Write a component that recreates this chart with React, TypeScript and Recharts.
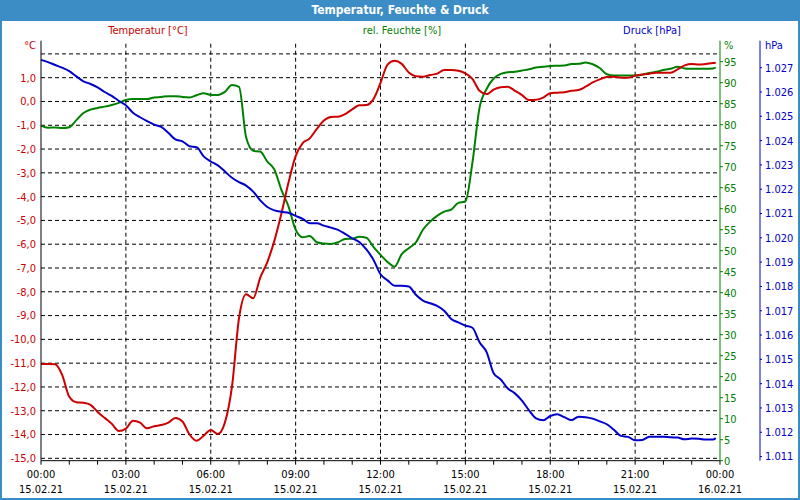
import { LineChart, Line, XAxis, YAxis, ReferenceLine } from "recharts";

const FONT = "'DejaVu Sans Condensed', 'Liberation Sans', sans-serif";
const FRAME = "#3c8dc6";
const RED = "#cc0000";
const GREEN = "#008000";
const BLUE = "#0000cc";

// hours since 15.02.21 00:00, 15 min steps
const HOURS = [
  0, 0.25, 0.5, 0.75, 1, 1.25, 1.5, 1.75, 2, 2.25, 2.5, 2.75,
  3, 3.25, 3.5, 3.75, 4, 4.25, 4.5, 4.75, 5, 5.25, 5.5, 5.75,
  6, 6.25, 6.5, 6.75, 7, 7.25, 7.5, 7.75, 8, 8.25, 8.5, 8.75,
  9, 9.25, 9.5, 9.75, 10, 10.25, 10.5, 10.75, 11, 11.25, 11.5, 11.75,
  12, 12.25, 12.5, 12.75, 13, 13.25, 13.5, 13.75, 14, 14.25, 14.5, 14.75,
  15, 15.25, 15.5, 15.75, 16, 16.25, 16.5, 16.75, 17, 17.25, 17.5, 17.75,
  18, 18.25, 18.5, 18.75, 19, 19.25, 19.5, 19.75, 20, 20.25, 20.5, 20.75,
  21, 21.25, 21.5, 21.75, 22, 22.25, 22.5, 22.75, 23, 23.25, 23.5, 23.75,
  23.85,
];

// °C
const TEMP = [
  -11.03, -11.03, -11.05, -11.5, -12.41, -12.64, -12.66, -12.75, -13.05, -13.3, -13.55, -13.85,
  -13.75, -13.42, -13.5, -13.74, -13.65, -13.6, -13.5, -13.3, -13.45, -14.0, -14.26, -14.05,
  -13.81, -13.98, -13.5, -11.99, -9.1, -8.1, -8.27, -7.4, -6.75, -5.85, -4.7, -3.4,
  -2.3, -1.75, -1.55, -1.15, -0.8, -0.65, -0.64, -0.53, -0.33, -0.16, -0.15, 0.1,
  0.78, 1.55, 1.71, 1.58, 1.22, 1.06, 1.04, 1.11, 1.17, 1.32, 1.32, 1.29,
  1.18, 0.95, 0.45, 0.31, 0.5, 0.6, 0.62, 0.45, 0.27, 0.06, 0.07, 0.16,
  0.35, 0.37, 0.39, 0.45, 0.48, 0.62, 0.8, 0.93, 1.03, 1.04, 1.0, 1.0,
  1.08, 1.13, 1.17, 1.21, 1.21, 1.21, 1.35, 1.52, 1.58, 1.55, 1.58, 1.62,
  1.63,
];

// %
const HUM = [
  79.8, 79.3, 79.35, 79.2, 79.4, 81.1, 82.8, 83.6, 84.0, 84.3, 84.7, 85.2,
  85.9, 86.1, 86.1, 86.1, 86.5, 86.6, 86.8, 86.8, 86.6, 86.5, 87.0, 87.5,
  87.1, 87.1, 87.8, 89.45, 89.0, 77.0, 73.8, 73.6, 71.2, 69.3, 64.4, 60.5,
  55.0, 53.2, 53.5, 52.0, 51.7, 51.6, 52.0, 52.8, 52.85, 53.3, 53.1, 50.9,
  49.0, 47.3, 46.2, 49.2, 50.6, 52.0, 55.0, 56.9, 58.3, 59.3, 59.8, 61.4,
  61.7, 71.0, 84.0, 88.5, 91.0, 92.1, 92.5, 92.6, 92.9, 93.2, 93.6, 93.8,
  94.0, 94.05, 94.1, 94.45, 94.5, 94.8, 94.4, 93.5, 92.0, 91.7, 91.7, 91.7,
  91.7, 91.9, 92.3, 92.6, 93.0, 93.3, 93.8, 93.4, 93.3, 93.3, 93.3, 93.4,
  93.6,
];

// hPa
const PRESS = [
  1027.32, 1027.23, 1027.11, 1027.0, 1026.86, 1026.64, 1026.44, 1026.33, 1026.19, 1026.0, 1025.84, 1025.64,
  1025.45, 1025.15, 1024.96, 1024.8, 1024.66, 1024.56, 1024.32, 1024.05, 1023.97, 1023.77, 1023.73, 1023.35,
  1023.14, 1022.98, 1022.73, 1022.47, 1022.29, 1022.15, 1021.9, 1021.54, 1021.27, 1021.13, 1021.07, 1021.03,
  1020.9, 1020.78, 1020.6, 1020.6, 1020.5, 1020.42, 1020.33, 1020.16, 1019.98, 1019.83, 1019.52, 1019.1,
  1018.5, 1018.25, 1018.03, 1018.03, 1018.0, 1017.66, 1017.42, 1017.31, 1017.2, 1017.0, 1016.66, 1016.52,
  1016.39, 1016.3, 1015.7, 1015.3, 1014.43, 1014.17, 1013.8, 1013.6, 1013.3, 1012.9, 1012.57, 1012.49,
  1012.67, 1012.74, 1012.62, 1012.5, 1012.64, 1012.62, 1012.56, 1012.45, 1012.33, 1012.1, 1011.85, 1011.81,
  1011.67, 1011.68, 1011.82, 1011.82, 1011.82, 1011.79, 1011.78, 1011.71, 1011.74, 1011.73, 1011.7, 1011.7,
  1011.76,
];

const HOUR_TICKS = [0, 1, 2, 3, 4, 5, 6, 7, 8, 9, 10, 11, 12, 13, 14, 15, 16, 17, 18, 19, 20, 21, 22, 23, 24];
const GRID_HOURS = [3, 6, 9, 12, 15, 18, 21];
const TIME_LABELS = ["00:00", "03:00", "06:00", "09:00", "12:00", "15:00", "18:00", "21:00", "00:00"];
const DATE_LABELS = ["15.02.21", "15.02.21", "15.02.21", "15.02.21", "15.02.21", "15.02.21", "15.02.21", "15.02.21", "16.02.21"];

const TEMP_TICKS = [-15, -14, -13, -12, -11, -10, -9, -8, -7, -6, -5, -4, -3, -2, -1, 0, 1];
const TEMP_GRID = [-15, -14, -13, -12, -11, -10, -9, -8, -7, -6, -5, -4, -3, -2, -1, 0, 1, 2];
const HUM_TICKS = [0, 5, 10, 15, 20, 25, 30, 35, 40, 45, 50, 55, 60, 65, 70, 75, 80, 85, 90, 95];
const PRESS_TICKS = [1011, 1012, 1013, 1014, 1015, 1016, 1017, 1018, 1019, 1020, 1021, 1022, 1023, 1024, 1025, 1026, 1027];

const data = HOURS.map((t, i) => ({ t, temp: TEMP[i], hum: HUM[i], press: PRESS[i] }));

function TimeTick(props: any) {
  const { x, y, payload } = props;
  const h = payload.value;
  if (h % 3 !== 0) return <g />;
  return (
    <text x={x} y={y} textAnchor="middle" fontSize={11} fontFamily={FONT} fill="#000">
      <tspan x={x} dy={11}>{TIME_LABELS[h / 3]}</tspan>
      <tspan x={x} dy={15}>{DATE_LABELS[h / 3]}</tspan>
    </text>
  );
}

const tickFont = { fontSize: 11, fontFamily: FONT };
const dash = "4 3";

function Label({ x, y, color, anchor, children }: any) {
  const shift = anchor === "middle" ? "-50%" : anchor === "end" ? "-100%" : "0";
  return (
    <div
      style={{
        position: "absolute",
        left: x,
        top: y - 7,
        transform: `translateX(${shift})`,
        color,
        fontFamily: FONT,
        fontSize: 11,
        lineHeight: "14px",
        whiteSpace: "nowrap",
      }}
    >
      {children}
    </div>
  );
}

export default function App() {
  return (
    <div style={{ position: "absolute", left: 0, top: 0, width: 800, height: 500, background: "#fff" }}>
      <LineChart width={800} height={500} data={data} margin={{ top: 40.7, right: 0, bottom: 0, left: 0 }}>
        <XAxis
          dataKey="t"
          type="number"
          domain={[0, 24]}
          ticks={HOUR_TICKS}
          interval={0}
          height={39.3}
          tickSize={4}
          tick={<TimeTick />}
          axisLine={{ stroke: "#000" }}
          tickLine={{ stroke: "#000" }}
        />
        <XAxis xAxisId="top" orientation="top" type="number" domain={[0, 24]} height={0} tick={false} tickLine={false} axisLine={{ stroke: "#000" }} />
        <YAxis
          yAxisId="temp"
          orientation="left"
          width={41}
          domain={[-15.1, 2.555]}
          ticks={TEMP_TICKS}
          interval={0}
          tickLine={false}
          tickSize={0}
          tickMargin={5}
          axisLine={{ stroke: "#000" }}
          tick={{ ...tickFont, fill: RED }}
          tickFormatter={(v: number) => v.toFixed(1).replace(".", ",")}
        />
        <YAxis
          yAxisId="hum"
          orientation="right"
          width={40}
          domain={[0, 100]}
          ticks={HUM_TICKS}
          interval={0}
          tickSize={3}
          tickMargin={1}
          axisLine={{ stroke: GREEN }}
          tickLine={{ stroke: GREEN }}
          tick={{ ...tickFont, fill: GREEN }}
        />
        <YAxis
          yAxisId="press"
          orientation="right"
          width={40}
          domain={[1010.83, 1028.11]}
          ticks={PRESS_TICKS}
          interval={0}
          tickSize={2}
          tickMargin={3}
          axisLine={{ stroke: BLUE }}
          tickLine={{ stroke: BLUE }}
          tick={{ ...tickFont, fill: BLUE }}
          tickFormatter={(v: number) => (v / 1000).toFixed(3)}
        />
        {TEMP_GRID.map((v) => (
          <ReferenceLine key={"h" + v} yAxisId="temp" y={v} stroke="#000" strokeDasharray={dash} />
        ))}
        {GRID_HOURS.map((h) => (
          <ReferenceLine key={"v" + h} yAxisId="temp" x={h} stroke="#000" strokeDasharray={dash} />
        ))}
        <Line yAxisId="hum" dataKey="hum" type="monotone" stroke={GREEN} strokeWidth={2} dot={false} isAnimationActive={false} />
        <Line yAxisId="temp" dataKey="temp" type="monotone" stroke={RED} strokeWidth={2} dot={false} isAnimationActive={false} />
        <Line yAxisId="press" dataKey="press" type="monotone" stroke={BLUE} strokeWidth={2} dot={false} isAnimationActive={false} />
      </LineChart>

      <div
        style={{
          position: "absolute",
          left: 0,
          top: 0,
          width: 800,
          height: 21,
          background: FRAME,
          color: "#fff",
          fontFamily: FONT,
          fontWeight: "bold",
          fontSize: 12,
          lineHeight: "21px",
          textAlign: "center",
        }}
      >
        Temperatur, Feuchte &amp; Druck
      </div>
      <div
        style={{
          position: "absolute",
          left: 0,
          top: 0,
          width: 800,
          height: 500,
          boxSizing: "border-box",
          border: `2px solid ${FRAME}`,
          pointerEvents: "none",
        }}
      />
      <Label x={148} y={31} color={RED} anchor="middle">Temperatur [°C]</Label>
      <Label x={402} y={31} color={GREEN} anchor="middle">rel. Feuchte [%]</Label>
      <Label x={652} y={31} color={BLUE} anchor="middle">Druck [hPa]</Label>
      <Label x={36} y={46} color={RED} anchor="end">°C</Label>
      <Label x={724} y={46} color={GREEN} anchor="start">%</Label>
      <Label x={765} y={46} color={BLUE} anchor="start">hPa</Label>
    </div>
  );
}
